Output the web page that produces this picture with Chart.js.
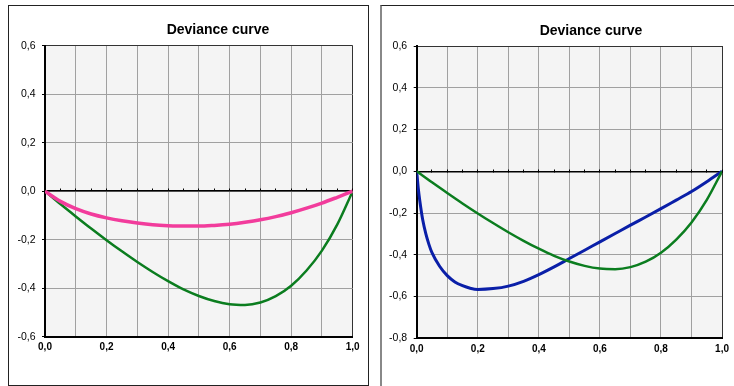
<!DOCTYPE html>
<html>
<head>
<meta charset="utf-8">
<script src="https://cdn.jsdelivr.net/npm/chart.js@4/dist/chart.umd.min.js"></script>
<style>
  body { margin: 0; background: #fff; width: 734px; height: 386px; overflow: hidden; position: relative; font-family: "Liberation Sans", Arial, sans-serif; }
  .marco { position: absolute; box-sizing: border-box; }
  #marco1 { left: 8px; top: 5px; width: 361px; height: 381px; border: 1px solid #222; }
  #marco2 { left: 380px; top: 5px; width: 400px; height: 400px; border-top: 1px solid #222; border-left: 2px solid #888; }
  canvas { position: absolute; top: 0; }
  #g1 { left: 0; }
  #g2 { left: 370px; }
  .titulo { position: absolute; font-weight: bold; font-size: 14px; color: #000; white-space: nowrap; transform: translate(-50%, -50%); }
</style>
</head>
<body>
<div class="marco" id="marco1"></div>
<div class="marco" id="marco2"></div>
<canvas id="g1" width="370" height="386"></canvas>
<canvas id="g2" width="364" height="386"></canvas>
<div class="titulo" style="left:218px; top:29px;">Deviance curve</div>
<div class="titulo" style="left:591px; top:30px;">Deviance curve</div>
<script>
// Datos
const titulo = 'Deviance curve';

const xVerde = [0, 0.05, 0.1, 0.15, 0.2, 0.25, 0.3, 0.35, 0.4, 0.45, 0.5, 0.55, 0.6, 0.65, 0.7, 0.75, 0.8, 0.85, 0.9, 0.95, 1];
const yVerde = [0, -0.053, -0.104, -0.154, -0.202, -0.248, -0.292, -0.333, -0.371, -0.405, -0.432, -0.453, -0.466, -0.469, -0.459, -0.433, -0.390, -0.327, -0.245, -0.137, 0];

const xRosa = [0, 0.05, 0.1, 0.15, 0.2, 0.25, 0.3, 0.35, 0.4, 0.45, 0.5, 0.55, 0.6, 0.65, 0.7, 0.75, 0.8, 0.85, 0.9, 0.95, 1];
const yRosa = [0, -0.042, -0.072, -0.094, -0.110, -0.122, -0.131, -0.138, -0.142, -0.144, -0.144, -0.141, -0.136, -0.128, -0.118, -0.105, -0.089, -0.070, -0.049, -0.025, 0];

const xAzul = [0, 0.005, 0.01, 0.02, 0.03, 0.04, 0.05, 0.075, 0.1, 0.125, 0.15, 0.175, 0.2, 0.25, 0.3, 0.35, 0.4, 0.45, 0.5, 0.55, 0.6, 0.65, 0.7, 0.75, 0.8, 0.85, 0.9, 0.95, 1];
const yAzul = [0, -0.08, -0.14, -0.235, -0.3, -0.35, -0.39, -0.455, -0.5, -0.53, -0.548, -0.56, -0.566, -0.562, -0.55, -0.527, -0.495, -0.458, -0.418, -0.378, -0.338, -0.298, -0.258, -0.219, -0.179, -0.138, -0.097, -0.05, 0];

const ticksY1 = [-0.6, 0.6];
const ticksY2 = [-0.8, 0.6];

function puntos(xs, ys) {
    return xs.map((x, i) => ({ x: x, y: ys[i] }));
}

function formato(v) {
    if (Math.abs(v) < 1e-9) v = 0;
    return v.toFixed(1).replace('.', ',');
}

// Fondo gris del área de trazado
const fondo = {
    id: 'fondo',
    beforeDraw(chart) {
        const a = chart.chartArea;
        const ctx = chart.ctx;
        ctx.save();
        ctx.fillStyle = '#f4f4f4';
        ctx.fillRect(a.left, a.top, a.right - a.left, a.bottom - a.top);
        ctx.restore();
    }
};

function serie(xs, ys, color, ancho) {
    return {
        data: puntos(xs, ys),
        borderColor: color,
        borderWidth: ancho,
        pointRadius: 0,
        fill: false,
        showLine: true,
        cubicInterpolationMode: 'monotone'
    };
}

function crearGrafico(id, datasets, rangoY, anchoY, padding) {
    const ctx = document.getElementById(id).getContext('2d');
    return new Chart(ctx, {
        type: 'scatter',
        data: { datasets: datasets },
        plugins: [fondo],
        options: {
            responsive: false,
            animation: false,
            layout: { padding: padding },
            plugins: {
                legend: { display: false },
                tooltip: { enabled: false },
                title: { display: false, text: titulo }
            },
            scales: {
                x: {
                    type: 'linear',
                    min: 0,
                    max: 1,
                    afterFit: s => { s.height = 20; },
                    ticks: {
                        stepSize: 0.1,
                        padding: 5,
                        color: '#000',
                        maxRotation: 0,
                        autoSkip: false,
                        font: { family: 'Liberation Sans, Arial, sans-serif', size: 10, weight: 'bold' },
                        callback: v => (Math.round(v * 10) % 2 === 0 ? formato(v) : '')
                    },
                    grid: {
                        drawTicks: false,
                        color: c => (c.tick && Math.abs(c.tick.value - 1) < 1e-9 ? '#333' : '#a0a0a0'),
                        lineWidth: 1
                    },
                    border: { display: true, color: '#000', width: 2 }
                },
                // eje en y = 0 con las marcas pequeñas
                cero: {
                    type: 'linear',
                    axis: 'x',
                    position: { y: 0 },
                    min: 0,
                    max: 1,
                    ticks: { display: false, stepSize: 0.05, autoSkip: false },
                    grid: { drawOnChartArea: false, drawTicks: true, tickLength: -3, tickColor: '#000', tickWidth: 1 },
                    border: { display: true, color: '#000', width: 1.5 }
                },
                y: {
                    min: rangoY[0],
                    max: rangoY[1],
                    afterFit: s => { s.width = anchoY; },
                    ticks: {
                        stepSize: 0.2,
                        padding: 6.5,
                        color: '#000',
                        font: { family: 'Liberation Sans, Arial, sans-serif', size: 10.5 },
                        callback: v => formato(v)
                    },
                    grid: {
                        tickLength: 3,
                        tickColor: '#000',
                        color: c => (c.tick && Math.abs(c.tick.value - rangoY[1]) < 1e-9 ? '#333' : '#a0a0a0'),
                        lineWidth: 1
                    },
                    border: { display: true, color: '#000', width: 2 }
                }
            }
        }
    });
}

crearGrafico('g1', [
    serie(xRosa, yRosa, '#f23c9c', 3.5),
    serie(xVerde, yVerde, '#0b7d1f', 2.5)
], ticksY1, 45, { left: 0, right: 17.3, top: 45.7, bottom: 29.3 });

crearGrafico('g2', [
    serie(xVerde, yVerde, '#0b7d1f', 2.5),
    serie(xAzul, yAzul, '#0a1fa8', 3)
], ticksY2, 46.7, { left: 0, right: 9.7, top: 46, bottom: 27.7 });
</script>
</body>
</html>
